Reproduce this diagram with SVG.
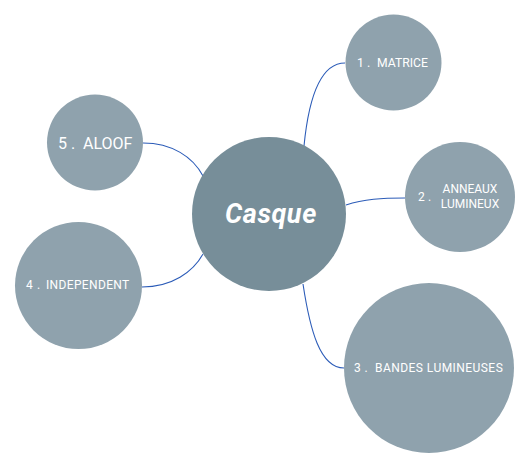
<svg xmlns="http://www.w3.org/2000/svg" width="531" height="469" viewBox="0 0 531 469">
<style>
.sub{fill:#8fa2ad}
.main{fill:#778e99}
.t{fill:#ffffff;font-family:Roboto,"Liberation Sans",sans-serif;font-size:12px}
.c{fill:none;stroke:#2c5cb8;stroke-width:1.1}
</style>
<rect width="531" height="469" fill="#ffffff"/>
<g id="connectors">
<path class="c" d="M304,146 C309,95 322,63 345,63"/>
<path class="c" d="M346,205 C364,199 382,198 405,198"/>
<path class="c" d="M143,143 C172,143 193,157 203,176"/>
<path class="c" d="M142,287 C172,287 193,272 203,254"/>
<path class="c" d="M303,284 C310,330 320,368 344,368"/>
</g>
<g id="center">
<circle class="main" cx="269" cy="214" r="77"/>
<text x="271" y="223" text-anchor="middle" fill="#ffffff" font-family="Roboto,'Liberation Sans',sans-serif" font-size="27" font-weight="bold" font-style="italic" letter-spacing="0.6">Casque</text>
</g>
<g id="n1">
<circle class="sub" cx="393.5" cy="62.5" r="48"/>
<text class="t" x="357" y="67" style="font-size:12.2px">1 <tspan x="367">.</tspan> <tspan x="377">MATRICE</tspan></text>
</g>
<g id="n2">
<circle class="sub" cx="460" cy="197" r="55"/>
<text class="t" x="418" y="201">2 <tspan x="428">.</tspan></text>
<text class="t" x="470" y="193" text-anchor="middle">ANNEAUX</text>
<text class="t" x="470" y="208" text-anchor="middle">LUMINEUX</text>
</g>
<g id="n3">
<circle class="sub" cx="429" cy="368" r="85"/>
<text class="t" x="354" y="372">3 <tspan x="364.5">.</tspan> <tspan x="375" style="letter-spacing:0.45px">BANDES LUMINEUSES</tspan></text>
</g>
<g id="n4">
<circle class="sub" cx="78.5" cy="285.5" r="63.5"/>
<text class="t" x="26" y="289">4 <tspan x="37">.</tspan> <tspan x="46" style="letter-spacing:0.35px">INDEPENDENT</tspan></text>
</g>
<g id="n5">
<circle class="sub" cx="95" cy="142.5" r="48"/>
<text class="t" x="58" y="149" style="font-size:16px">5 <tspan x="71">.</tspan> <tspan x="83">ALOOF</tspan></text>
</g>
</svg>
